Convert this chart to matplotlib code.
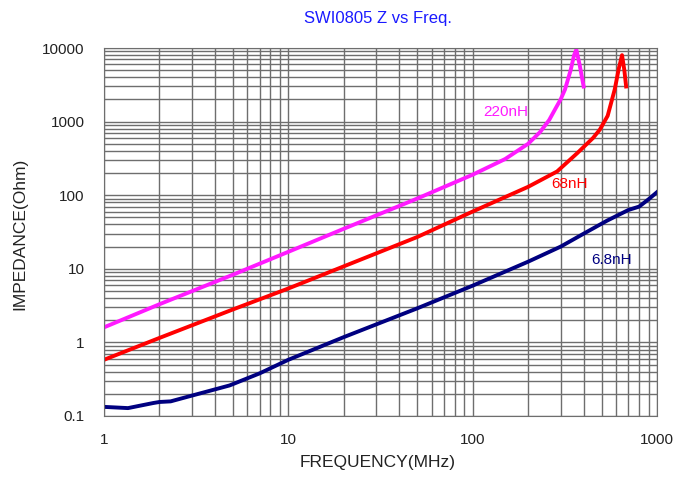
import matplotlib
matplotlib.use("Agg")
import matplotlib.pyplot as plt
from matplotlib.ticker import LogLocator, NullFormatter

plt.rcParams['font.family'] = ['Liberation Sans', 'DejaVu Sans']

# 220nH curve
freq_220 = [1, 2, 5, 10, 20, 50, 100, 150, 200, 232, 260, 280, 300, 317, 340, 355, 365, 380, 400]
z_220 = [1.6, 3.3, 8.3, 17, 35, 90, 190, 310, 500, 720, 1050, 1470, 2000, 2740, 5000, 8000, 9500, 6000, 3000]

# 68nH curve
freq_68 = [1, 2, 5, 10, 20, 50, 100, 200, 287, 368, 450, 490, 540, 590, 620, 646, 665, 680]
z_68 = [0.58, 1.15, 2.8, 5.4, 10.8, 27, 60, 130, 210, 370, 600, 780, 1200, 2750, 5200, 8000, 5000, 3000]

# 6.8nH curve
freq_6n8 = [1, 1.35, 1.85, 2.0, 2.3, 2.9, 3.5, 4.8, 7, 10, 20, 50, 100, 200, 300, 400, 535, 700, 800, 900, 1000]
z_6n8 = [0.133, 0.128, 0.15, 0.155, 0.158, 0.185, 0.21, 0.26, 0.38, 0.58, 1.18, 2.9, 5.9, 12.5, 20, 30, 45, 63, 70, 88, 110]

x_ticks = [1, 10, 100, 1000]
x_labels = ['1', '10', '100', '1000']
y_ticks = [0.1, 1, 10, 100, 1000, 10000]
y_labels = ['0.1', '1', '10', '100', '1000', '10000']

fig = plt.figure(figsize=(6.76, 4.97), dpi=100)
ax = fig.add_axes([0.1538, 0.163, 0.8181, 0.7404])

ax.plot(freq_220, z_220, color='#ff1aff', lw=2.8, solid_joinstyle='round')
ax.plot(freq_68, z_68, color='#ff0000', lw=2.8, solid_joinstyle='round')
ax.plot(freq_6n8, z_6n8, color='#000080', lw=2.8, solid_joinstyle='round')

ax.set_xscale('log')
ax.set_yscale('log')
ax.set_xlim(1, 1000)
ax.set_ylim(0.1, 10000)

ax.set_xticks(x_ticks)
ax.set_xticklabels(x_labels)
ax.set_yticks(y_ticks)
ax.set_yticklabels(y_labels)
ax.xaxis.set_minor_locator(LogLocator(base=10, subs=range(2, 10)))
ax.yaxis.set_minor_locator(LogLocator(base=10, subs=range(2, 10)))
ax.xaxis.set_minor_formatter(NullFormatter())
ax.yaxis.set_minor_formatter(NullFormatter())

ax.grid(True, which='both', color='#6e6e6e', lw=1.0)
ax.set_axisbelow(True)
ax.tick_params(which='both', length=0)
ax.tick_params(axis='x', pad=12, labelsize=11, colors='#222222')
ax.tick_params(axis='y', pad=14, labelsize=11, colors='#222222')
for s in ax.spines.values():
    s.set_color('#6e6e6e')

ax.text(152, 1330, '220nH', color='#ff1aff', fontsize=11, ha='center', va='center')
ax.text(337, 141, '68nH', color='#ff0000', fontsize=11, ha='center', va='center')
ax.text(570, 13, '6.8nH', color='#000080', fontsize=11, ha='center', va='center')

fig.text(0.559, 0.962, 'SWI0805 Z vs Freq.', color='#1a1aff', fontsize=12, ha='center', va='center')
fig.text(0.559, 0.07, 'FREQUENCY(MHz)', color='#222222', fontsize=12.5, ha='center', va='center')
fig.text(0.03, 0.53, 'IMPEDANCE(Ohm)', color='#222222', fontsize=12.5, ha='center', va='center', rotation=90)

fig.savefig('out.png', dpi=100)
